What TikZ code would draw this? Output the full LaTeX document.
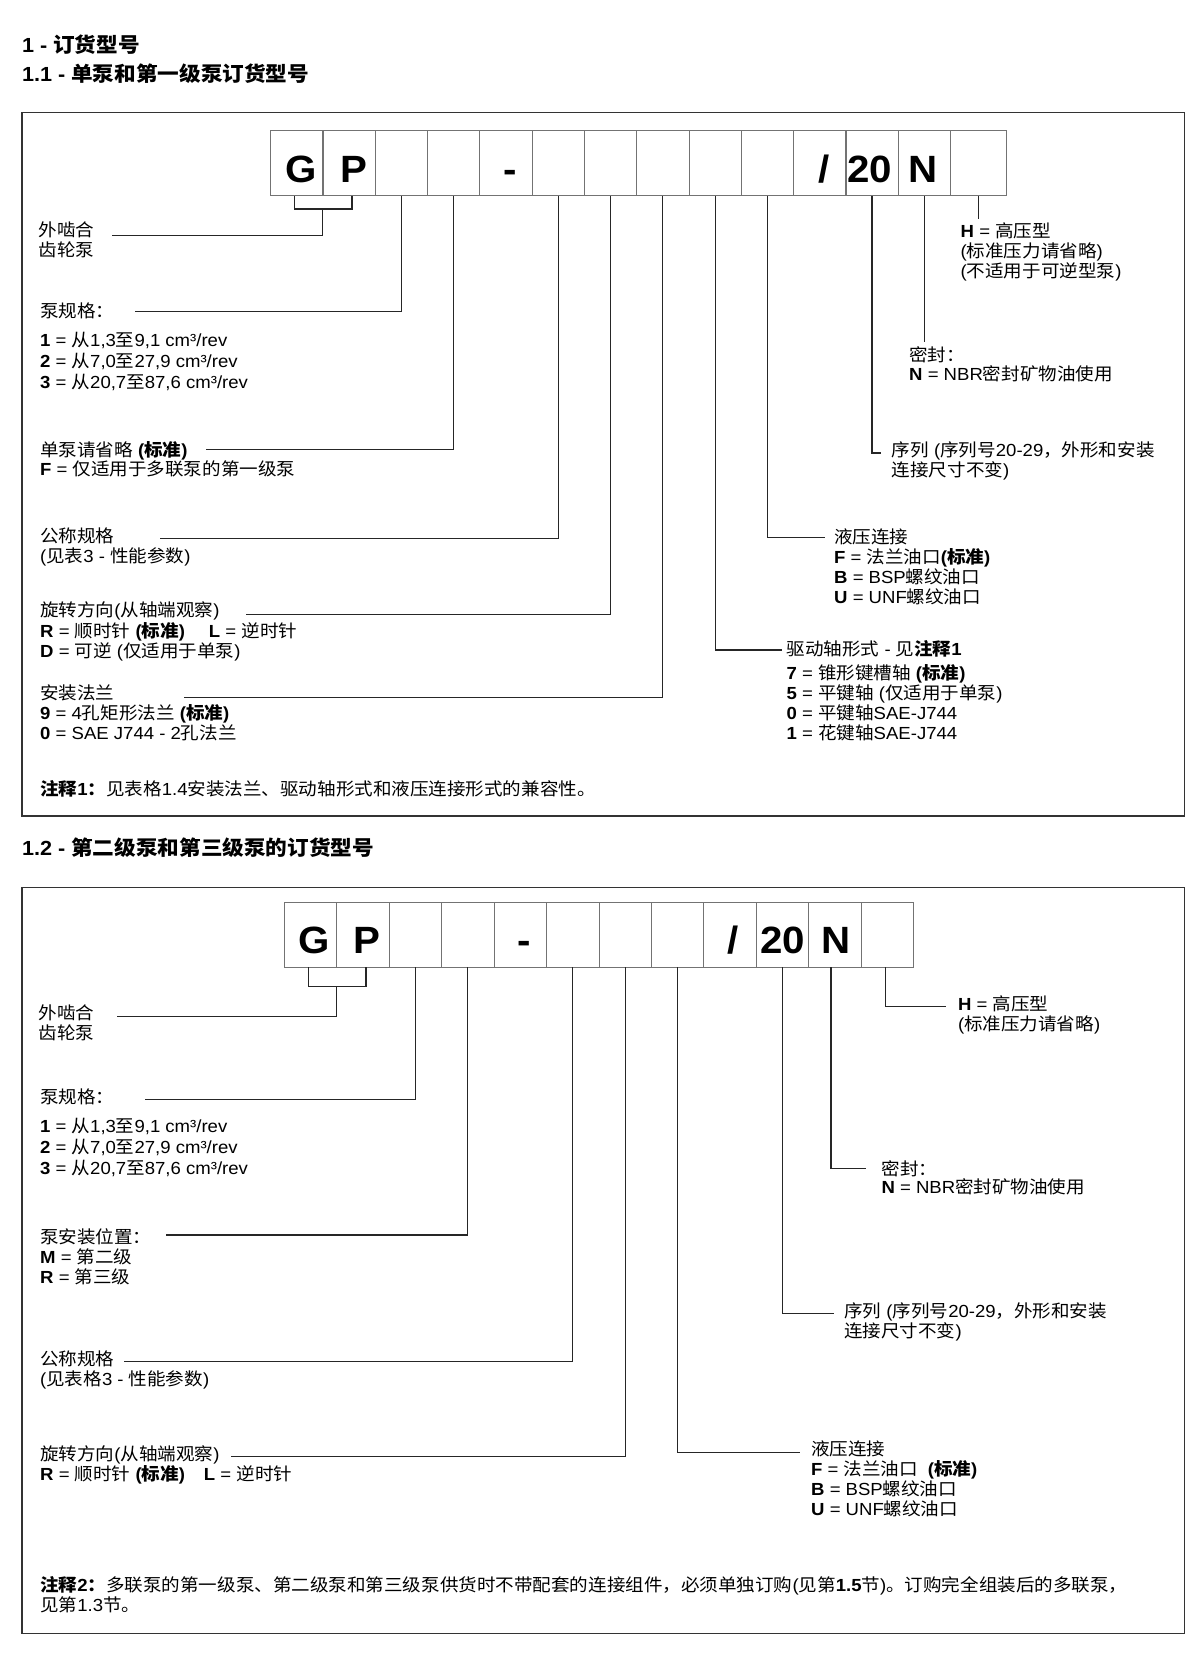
\documentclass[tikz,border=0pt]{standalone}
\usepackage{fontspec}
\setmainfont{Liberation Sans}[NFSSFamily=latn, FakeStretch=1.06]
\newfontfamily\cjkfont{Noto Sans CJK SC}[NFSSFamily=cjkf, FakeStretch=1.06]
% switch to the CJK family for Chinese characters
\XeTeXinterchartokenstate=1
\newXeTeXintercharclass\cjkclass
\newcount\cjkcnt
\cjkcnt="3000 \loop\XeTeXcharclass\cjkcnt=\cjkclass\advance\cjkcnt by 1 \ifnum\cjkcnt<"3040 \repeat
\cjkcnt="4E00 \loop\XeTeXcharclass\cjkcnt=\cjkclass\advance\cjkcnt by 1 \ifnum\cjkcnt<"A000 \repeat
\cjkcnt="FF00 \loop\XeTeXcharclass\cjkcnt=\cjkclass\advance\cjkcnt by 1 \ifnum\cjkcnt<"FFF0 \repeat
\XeTeXinterchartoks 0 \cjkclass = {\fontfamily{cjkf}\selectfont}
\XeTeXinterchartoks 4095 \cjkclass = {\fontfamily{cjkf}\selectfont}
\XeTeXinterchartoks \cjkclass 0 = {\fontfamily{latn}\selectfont}
\XeTeXinterchartoks \cjkclass 4095 = {\fontfamily{latn}\selectfont}
\begin{document}
\begin{tikzpicture}[x=1pt, y=-1pt,
    every node/.style={inner sep=0pt, font=\fontsize{17.5}{20}\selectfont},
    ttl/.style={anchor=west, font=\fontsize{20.4}{22}\selectfont\bfseries},
    lbl/.style={anchor=north west, align=left, execute at begin node={\rule{0pt}{16pt}}},
    cell/.style={draw=black!55, line width=0.9pt, minimum width=52.4pt, minimum height=65pt,
                 text height=38.6pt, text depth=0pt, font=\fontsize{38}{40}\selectfont\bfseries},
    conn/.style={line width=1.2pt, black!85},
    frame/.style={line width=1.4pt, black!80}]
  \useasboundingbox (0,0) rectangle (1200,1672);

  % Titles
  \node[ttl] (t1) at (21.8,44.5) {1 - 订货型号};
  \node[ttl] (t11) at (21.8,73.5) {1.1 - 单泵和第一级泵订货型号};

  % Frame of 1.1
  \draw[frame] (21.8,112.3) rectangle (1184.4,816);

  % Code boxes 1.1
  \node[cell] (a1) at (296.75,163.3) {\hspace*{8pt}G};
  \node[cell] (a2) at (349.05,163.3) {\hspace*{10pt}P};
  \node[cell] (a3) at (401.35,163.3) {};
  \node[cell] (a4) at (453.65,163.3) {};
  \node[cell] (a5) at (505.95,163.3) {\hspace*{8pt}-};
  \node[cell] (a6) at (558.25,163.3) {};
  \node[cell] (a7) at (610.55,163.3) {};
  \node[cell] (a8) at (662.85,163.3) {};
  \node[cell] (a9) at (715.15,163.3) {};
  \node[cell] (a10) at (767.45,163.3) {};
  \node[cell] (a11) at (819.75,163.3) {\hspace*{8pt}/};
  \node[cell] (a12) at (872.05,163.3) {\hspace*{-5pt}20};
  \node[cell] (a13) at (924.35,163.3) {\hspace*{-2pt}N};
  \node[cell, minimum width=55.8pt] (a14) at (978.5,163.3) {};

  % Left labels 1.1
  \node[lbl] (lGear1) at (38.5,222) {外啮合\\齿轮泵};
  \node[lbl] (lSize1) at (40,302.5) {泵规格：\\[9.5pt]\textbf{1} = 从1,3至9,1 cm³/rev\\[1pt]\textbf{2} = 从7,0至27,9 cm³/rev\\[1pt]\textbf{3} = 从20,7至87,6 cm³/rev};
  \node[lbl] (lFirst1) at (40,441.7) {单泵请省略 \textbf{(标准)}\\[-1.5pt]\textbf{F} = 仅适用于多联泵的第一级泵};
  \node[lbl] (lNom1) at (40,527.5) {公称规格\\(见表3 - 性能参数)};
  \node[lbl] (lRot1) at (40,601.5) {旋转方向(从轴端观察)\\[1pt]\textbf{R} = 顺时针 \textbf{(标准)}\hspace{24pt}\textbf{L} = 逆时针\\\textbf{D} = 可逆 (仅适用于单泵)};
  \node[lbl] (lFlange1) at (40,685) {安装法兰\\\textbf{9} = 4孔矩形法兰 \textbf{(标准)}\\\textbf{0} = SAE J744 - 2孔法兰};
  \node[lbl] (lNote1) at (40,779.5) {\textbf{注释1：}见表格1.4安装法兰、驱动轴形式和液压连接形式的兼容性。};

  % Right labels 1.1
  \node[lbl] (lHigh1) at (960.5,223) {\textbf{H} = 高压型\\(标准压力请省略)\\(不适用于可逆型泵)};
  \node[lbl] (lSeal1) at (909,346.5) {密封：\\[-1pt]\textbf{N} = NBR密封矿物油使用};
  \node[lbl] (lSeries1) at (891.6,442) {序列 (序列号20-29，外形和安装\\连接尺寸不变)};
  \node[lbl] (lPort1) at (834,528.5) {液压连接\\\textbf{F} = 法兰油口\textbf{(标准)}\\\textbf{B} = BSP螺纹油口\\\textbf{U} = UNF螺纹油口};
  \node[lbl] (lShaft1) at (786.4,640) {驱动轴形式 - 见\textbf{注释1}\\[4pt]\textbf{7} = 锥形键槽轴 \textbf{(标准)}\\\textbf{5} = 平键轴 (仅适用于单泵)\\\textbf{0} = 平键轴SAE-J744\\\textbf{1} = 花键轴SAE-J744};

  % Leader lines 1.1
  \coordinate (gp1) at (322.6,209);
  \coordinate (cGear1) at (112,235.7);
  \coordinate (cSize1) at (135,311.7);
  \coordinate (cFirst1) at (205.5,449.3);
  \coordinate (cNom1) at (159.6,538.3);
  \coordinate (cRot1) at (246,614.3);
  \coordinate (cFlange1) at (183.7,697.7);
  \coordinate (cShaft1) at (781.8,650);
  \coordinate (cPort1) at (825,537.7);
  \coordinate (cSeries1) at (881,453);
  \coordinate (cSeal1) at (a13.south |- 0,342);
  \coordinate (cHigh1) at (a14.south |- 0,219);
  \draw[conn] ([xshift=-2pt]a1.south) |- (gp1) -| ([xshift=3pt]a2.south);
  \draw[conn] (gp1) |- (cGear1);
  \draw[conn] (a3.south) |- (cSize1);
  \draw[conn] (a4.south) |- (cFirst1);
  \draw[conn] (a6.south) |- (cNom1);
  \draw[conn] (a7.south) |- (cRot1);
  \draw[conn] (a8.south) |- (cFlange1);
  \draw[conn] (a9.south) |- (cShaft1);
  \draw[conn] (a10.south) |- (cPort1);
  \draw[conn] (a12.south) |- (cSeries1);
  \draw[conn] (a13.south) -- (cSeal1);
  \draw[conn] (a14.south) -- (cHigh1);

  % Title 1.2
  \node[ttl] (t12) at (21.8,848) {1.2 - 第二级泵和第三级泵的订货型号};

  % Frame of 1.2
  \draw[frame] (21.8,887.7) rectangle (1184.4,1633.5);

  % Code boxes 1.2
  \node[cell] (b1) at (310.5,934.5) {\hspace*{7pt}G};
  \node[cell] (b2) at (362.95,934.5) {\hspace*{7pt}P};
  \node[cell] (b3) at (415.4,934.5) {};
  \node[cell] (b4) at (467.85,934.5) {};
  \node[cell] (b5) at (520.3,934.5) {\hspace*{7pt}-};
  \node[cell] (b6) at (572.75,934.5) {};
  \node[cell] (b7) at (625.2,934.5) {};
  \node[cell] (b8) at (677.65,934.5) {};
  \node[cell] (b9) at (730.1,934.5) {\hspace*{6pt}/};
  \node[cell] (b10) at (782.55,934.5) {20};
  \node[cell] (b11) at (835,934.5) {\hspace*{2pt}N};
  \node[cell] (b12) at (887.45,934.5) {};

  % Left labels 1.2
  \node[lbl] (lGear2) at (38.5,1005) {外啮合\\齿轮泵};
  \node[lbl] (lSize2) at (40,1088.3) {泵规格：\\[9.5pt]\textbf{1} = 从1,3至9,1 cm³/rev\\[1pt]\textbf{2} = 从7,0至27,9 cm³/rev\\[1pt]\textbf{3} = 从20,7至87,6 cm³/rev};
  \node[lbl] (lPos2) at (40,1228) {泵安装位置：\\\textbf{M} = 第二级\\\textbf{R} = 第三级};
  \node[lbl] (lNom2) at (40,1351) {公称规格\\(见表格3 - 性能参数)};
  \node[lbl] (lRot2) at (40,1445.7) {旋转方向(从轴端观察)\\\textbf{R} = 顺时针 \textbf{(标准)}\hspace{19pt}\textbf{L} = 逆时针};
  \node[lbl] (lNote2) at (40,1576.7) {\textbf{注释2：}多联泵的第一级泵、第二级泵和第三级泵供货时不带配套的连接组件，必须单独订购(见第\textbf{1.5}节)。订购完全组装后的多联泵，\\[-0.7pt]见第1.3节。};

  % Right labels 1.2
  \node[lbl] (lHigh2) at (957.8,996) {\textbf{H} = 高压型\\(标准压力请省略)};
  \node[lbl] (lSeal2) at (881.3,1160) {密封：\\[-1.7pt]\textbf{N} = NBR密封矿物油使用};
  \node[lbl] (lSeries2) at (844,1302.7) {序列 (序列号20-29，外形和安装\\连接尺寸不变)};
  \node[lbl] (lPort2) at (811,1440.7) {液压连接\\\textbf{F} = 法兰油口\hspace{10pt}\textbf{(标准)}\\\textbf{B} = BSP螺纹油口\\\textbf{U} = UNF螺纹油口};

  % Leader lines 1.2
  \coordinate (gp2) at (336.8,986.7);
  \coordinate (cGear2) at (116.7,1016.7);
  \coordinate (cSize2) at (144.7,1099.3);
  \coordinate (cPos2) at (166,1235);
  \coordinate (cNom2) at (124,1361.7);
  \coordinate (cRot2) at (231,1456.7);
  \coordinate (cPort2) at (799.5,1452.7);
  \coordinate (cSeries2) at (834,1313.5);
  \coordinate (cSeal2) at (866,1168.3);
  \coordinate (cHigh2) at (946.3,1006.7);
  \draw[conn] ([xshift=-2pt]b1.south) |- (gp2) -| ([xshift=3pt]b2.south);
  \draw[conn] (gp2) |- (cGear2);
  \draw[conn] (b3.south) |- (cSize2);
  \draw[conn] (b4.south) |- (cPos2);
  \draw[conn] (b6.south) |- (cNom2);
  \draw[conn] (b7.south) |- (cRot2);
  \draw[conn] (b8.south) |- (cPort2);
  \draw[conn] (b10.south) |- (cSeries2);
  \draw[conn] ([xshift=-4pt]b11.south) |- (cSeal2);
  \draw[conn] ([xshift=-2pt]b12.south) |- (cHigh2);
\end{tikzpicture}
\end{document}
